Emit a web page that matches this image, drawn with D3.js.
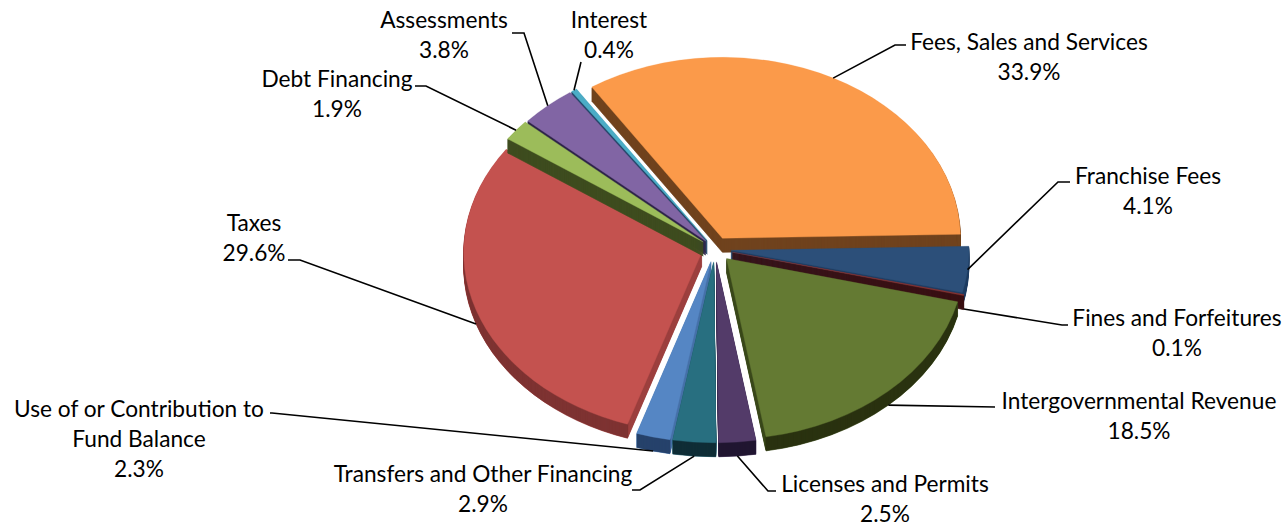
<!DOCTYPE html>
<meta charset="utf-8">
<title>Revenue by Source</title>
<style>
body { margin: 0; background: #fff; }
svg { display: block; }
text { font-family: Lato, "Open Sans", sans-serif; font-size: 22.7px; fill: #000; }
</style>
<body>
<svg></svg>
</body>
<script src="https://d3js.org/d3.v7.min.js"></script>
<script>

var categories = ["Fees, Sales and Services", "Franchise Fees", "Fines and Forfeitures", "Intergovernmental Revenue",
    "Licenses and Permits", "Transfers and Other Financing", "Use of or Contribution to Fund Balance", "Taxes",
    "Debt Financing", "Assessments", "Interest"];
var shares = [33.9, 4.1, 0.1, 18.5, 2.5, 2.9, 2.3, 29.6, 1.9, 3.8, 0.4];

var topColors = ["#fb9a4a", "#2c4f79", "#8a3331", "#647a33", "#533b69", "#286f80", "#5586c4", "#c4524f", "#9cbc5a", "#8165a4", "#4bacc6"];
var sideColors = ["#70431e", "#1f3d62", "#3a1012", "#3c4a1c", "#3a2a50", "#1f5968", "#4670a8", "#9c403e", "#3f4d20", "#2e2448", "#24466a"];
var rimColors = ["#70431e", "#1f3d62", "#3a1012", "#2a3210", "#211631", "#0f2d36", "#26426b", "#7e3332", "#3f4d20", "#2e2448", "#24466a"];

// how far each slice is pulled out of the pie, and which one paints over which
var explode = [16, 16, 18, 17, 17, 17, 17, 14, 15, 14, 14];
var paintOrder = [0, 10, 9, 7, 8, 1, 2, 3, 6, 5, 4];

// label layout: centre x, first baseline, elbow of the leader line, end of the leader line
var labelLines = [["Fees, Sales and Services", "33.9%"], ["Franchise Fees", "4.1%"], ["Fines and Forfeitures", "0.1%"],
    ["Intergovernmental Revenue", "18.5%"], ["Licenses and Permits", "2.5%"], ["Transfers and Other Financing", "2.9%"],
    ["Use of or Contribution to", "Fund Balance", "2.3%"], ["Taxes", "29.6%"], ["Debt Financing", "1.9%"],
    ["Assessments", "3.8%"], ["Interest", "0.4%"]];
var labelSpots = [[1029, 50], [1148, 184], [1177, 326], [1139, 409], [885, 492], [483, 482], [139, 417], [254, 231], [337, 87], [444, 28], [609, 28]];
var leaderEnds = [[[895, 45], [906, 45]], [[1058, 182], [1070, 182]], [[1062, 325], [1068, 325]], [[995, 407], [995, 407]],
    [[768, 491], [776, 491]], [[640, 490], [632, 490]], [[272, 413], [270, 413]], [[300, 260], [288, 260]],
    [[426, 86], [415, 86]], [[524, 33], [512, 33]], [[581, 62], [581, 62]]];

var width = 1286,
    height = 526,
    cx = 715,
    cy = 249,
    radius = 238,
    tilt = 0.76,
    depth = 14,
    lineStep = 30;

var svg = d3.select("svg").attr("width", width).attr("height", height);

var startAngle = -33.3 * Math.PI / 180;
var slices = d3.pie().sort(null).startAngle(startAngle).endAngle(startAngle + 2 * Math.PI)(shares);

var sector = d3.arc().innerRadius(0).outerRadius(radius);
var rim = d3.arc().innerRadius(radius - 3).outerRadius(radius);

function midAngle(d) { return (d.startAngle + d.endAngle) / 2; }

function apex(i) {
    var a = midAngle(slices[i]);
    return [cx + explode[i] * Math.sin(a), cy - explode[i] * tilt * Math.cos(a)];
}

function place(i, drop) {
    var p = apex(i);
    return "translate(" + p[0] + "," + (p[1] + drop) + ") scale(1," + tilt + ")";
}

var pie_layer = svg.append("g"),
    line_layer = svg.append("g").attr("fill", "none").attr("stroke", "#000").attr("stroke-width", 1.6),
    text_layer = svg.append("g").attr("text-anchor", "middle");

paintOrder.forEach(function(i) {
    var g = pie_layer.append("g"), d = slices[i];
    // the stroke stops the thin wedges fading out near the apex
    d3.range(depth, 0, -1).forEach(function(k) {
        g.append("path").attr("d", sector(d)).attr("transform", place(i, k))
            .attr("fill", sideColors[i]).attr("stroke", sideColors[i]).attr("stroke-width", 0.8);
    });
    d3.range(depth, 0, -1).forEach(function(k) {
        g.append("path").attr("d", rim(d)).attr("transform", place(i, k)).attr("fill", rimColors[i]);
    });
    g.append("path").attr("d", sector(d)).attr("transform", place(i, 0))
        .attr("fill", topColors[i]).attr("stroke", topColors[i]).attr("stroke-width", 0.4);
});

var line = d3.line();

slices.forEach(function(d, i) {
    var a = midAngle(d), p = apex(i);
    var lower = -Math.cos(a) > 0.15;
    var start = [p[0] + radius * Math.sin(a), p[1] - radius * tilt * Math.cos(a) + (lower ? depth : 0)];
    line_layer.append("path").attr("d", line([start].concat(leaderEnds[i])));

    var t = text_layer.append("text");
    labelLines[i].forEach(function(s, j) {
        t.append("tspan").attr("x", labelSpots[i][0]).attr("y", labelSpots[i][1] + j * lineStep).text(s);
    });
});

</script>
